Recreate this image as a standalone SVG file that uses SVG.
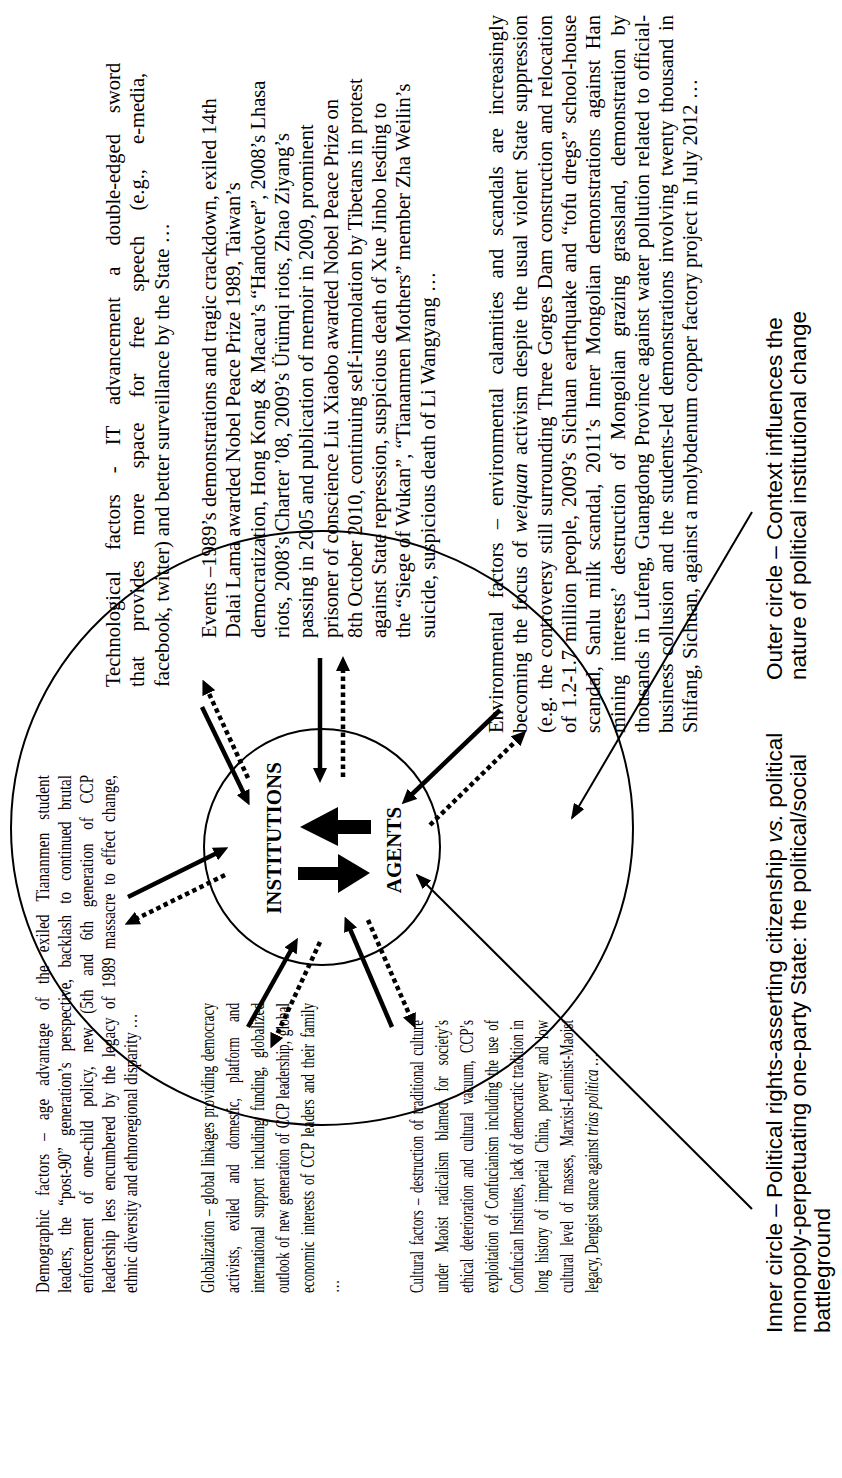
<svg xmlns="http://www.w3.org/2000/svg" width="842" height="1478" viewBox="0 0 842 1478">
<style>
.t{font-family:"Liberation Serif","Times New Roman",serif;fill:#000}
.l{font-size:19.5px}
.r{font-size:20.5px}
.lab{font-family:"Liberation Sans",Arial,sans-serif;font-size:22.5px;fill:#000}
.b{font-family:"Liberation Serif","Times New Roman",serif;font-weight:bold;font-size:21px;fill:#000;text-anchor:middle}
.ring{fill:none;stroke:#000;stroke-width:2}
.sol{stroke:#000;stroke-width:4.5;fill:none;marker-end:url(#ah)}
.dot{stroke:#000;stroke-width:4.5;fill:none;stroke-dasharray:4.5 3.5;marker-end:url(#ah)}
.thin{stroke:#000;stroke-width:2;fill:none;marker-end:url(#ahs)}
</style>
<defs>
<marker id="ah" viewBox="0 0 15 14" refX="9" refY="7" markerWidth="15" markerHeight="14" orient="auto" markerUnits="userSpaceOnUse"><path d="M0,0 L15,7 L0,14 z" fill="#000"/></marker>
<marker id="ahs" viewBox="0 0 16 12" refX="14" refY="6" markerWidth="16" markerHeight="12" orient="auto" markerUnits="userSpaceOnUse"><path d="M0,0 L16,6 L0,12 z" fill="#000"/></marker>
</defs>
<rect width="842" height="1478" fill="#fff"/>
<g id="outer-circle"><ellipse class="ring" cx="322" cy="828" rx="311" ry="297"/></g>
<g id="inner-circle"><circle class="ring" cx="322" cy="847" r="118"/>
<polygon points="300,827 338,807 338,820 371,820 371,834 338,834 338,846" fill="#000"/>
<polygon points="370,873 338,854 338,867 298,867 298,880 338,880 338,893" fill="#000"/>
</g>
<g id="connectors">
<line class="sol" x1="128" y1="897" x2="223" y2="850"/>
<line class="dot" x1="225" y1="875" x2="130" y2="922"/>
<line class="sol" x1="202" y1="707" x2="247" y2="800"/>
<line class="dot" x1="248" y1="778" x2="205" y2="685"/>
<line class="sol" x1="320" y1="658" x2="320" y2="777"/>
<line class="dot" x1="343" y1="777" x2="343" y2="662"/>
<line class="sol" x1="500" y1="710" x2="406" y2="800"/>
<line class="dot" x1="430" y1="825" x2="522" y2="735"/>
<line class="sol" x1="248" y1="1027" x2="295" y2="943"/>
<line class="dot" x1="320" y1="942" x2="273" y2="1043"/>
<line class="sol" x1="392" y1="1027" x2="347" y2="922"/>
<line class="dot" x1="368" y1="920" x2="413" y2="1023"/>
<line class="thin" x1="752" y1="1209" x2="417" y2="875"/>
<line class="thin" x1="752" y1="512" x2="572" y2="818"/>
</g>
<g transform="matrix(0 -1 1 0 0 1478)">
<g id="core-labels">
<text class="b" x="640" y="281">INSTITUTIONS</text>
<text class="b" x="628" y="401">AGENTS</text>
</g>
<g id="demographic" class="t l" transform="translate(185 0) scale(0.77 1) translate(-185 0)">
<text x="185" y="49" style="word-spacing:11.7px" textLength="672.7" lengthAdjust="spacing">Demographic factors – age advantage of the exiled Tiananmen student</text>
<text x="185" y="71" style="word-spacing:9.8px" textLength="672.7" lengthAdjust="spacing">leaders, the “post-90” generation’s perspective, backlash to continued brutal</text>
<text x="185" y="93" style="word-spacing:12.9px" textLength="672.7" lengthAdjust="spacing">enforcement of one-child policy, new (5th and 6th generation of CCP</text>
<text x="185" y="115" style="word-spacing:5.7px" textLength="672.7" lengthAdjust="spacing">leadership less encumbered by the legacy of 1989 massacre to effect change,</text>
<text x="185" y="137">ethnic diversity and ethnoregional disparity …</text>
</g>
<g id="globalization" class="t l" transform="translate(185 0) scale(0.68 1) translate(-185 0)">
<text x="185" y="214" style="word-spacing:2.2px" textLength="426.5" lengthAdjust="spacing">Globalization – global linkages providing democracy</text>
<text x="185" y="239" style="word-spacing:17.4px" textLength="426.5" lengthAdjust="spacing">activists, exiled and domestic, platform and</text>
<text x="185" y="264" style="word-spacing:7.8px" textLength="426.5" lengthAdjust="spacing">international support including funding, globalized</text>
<text x="185" y="289" style="word-spacing:2.1px" textLength="426.5" lengthAdjust="spacing">outlook of new generation of CCP leadership, global</text>
<text x="185" y="314" style="word-spacing:4px" textLength="426.5" lengthAdjust="spacing">economic interests of CCP leaders and their family</text>
<text x="185" y="339">…</text>
</g>
<g id="cultural" class="t l" transform="translate(185 0) scale(0.66 1) translate(-185 0)">
<text x="185" y="423" style="word-spacing:3.4px" textLength="413.6" lengthAdjust="spacing">Cultural factors – destruction of traditional culture</text>
<text x="185" y="448" style="word-spacing:12px" textLength="413.6" lengthAdjust="spacing">under Maoist radicalism blamed for society’s</text>
<text x="185" y="473" style="word-spacing:6.5px" textLength="413.6" lengthAdjust="spacing">ethical deterioration and cultural vacuum, CCP’s</text>
<text x="185" y="498" style="word-spacing:4.3px" textLength="413.6" lengthAdjust="spacing">exploitation of Confucianism including the use of</text>
<text x="185" y="523" style="word-spacing:0.8px" textLength="413.6" lengthAdjust="spacing">Confucian Institutes, lack of democratic tradition in</text>
<text x="185" y="548" style="word-spacing:5.9px" textLength="413.6" lengthAdjust="spacing">long history of imperial China, poverty and low</text>
<text x="185" y="573" style="word-spacing:7.1px" textLength="413.6" lengthAdjust="spacing">cultural level of masses, Marxist-Leninist-Maoist</text>
<text x="185" y="598">legacy, Dengist stance against <tspan font-style="italic">trias politica</tspan> …</text>
</g>
<g id="technological" class="t r">
<text x="791" y="120" style="word-spacing:16px">Technological factors - IT advancement a double-edged sword</text>
<text x="791" y="144" style="word-spacing:20px">that provides more space for free speech (e.g., e-media,</text>
<text x="791" y="169">facebook, twitter) and better surveillance by the State …</text>
</g>
<g id="events" class="t r">
<text x="840" y="216">Events –1989’s demonstrations and tragic crackdown, exiled 14th</text>
<text x="840" y="240">Dalai Lama awarded Nobel Peace Prize 1989, Taiwan’s</text>
<text x="840" y="265">democratization, Hong Kong &amp; Macau’s “Handover”, 2008’s Lhasa</text>
<text x="840" y="289">riots, 2008’s Charter ’08, 2009’s Ürümqi riots, Zhao Ziyang’s</text>
<text x="840" y="313">passing in 2005 and publication of memoir in 2009, prominent</text>
<text x="840" y="338">prisoner of conscience Liu Xiaobo awarded Nobel Peace Prize on</text>
<text x="840" y="362">8th October 2010, continuing self-immolation by Tibetans in protest</text>
<text x="840" y="386">against State repression, suspicious death of  Xue Jinbo lesding to</text>
<text x="840" y="410">the “Siege of Wukan”, “Tiananmen Mothers” member Zha Weilin’s</text>
<text x="840" y="435">suicide, suspicious death of Li Wangyang …</text>
</g>
<g id="environmental" class="t r">
<text x="745" y="503" style="word-spacing:8px" textLength="718" lengthAdjust="spacing">Environmental factors – environmental calamities and scandals are increasingly</text>
<text x="745" y="527" style="word-spacing:3.1px" textLength="718" lengthAdjust="spacing">becoming the focus of <tspan font-style="italic">weiquan</tspan> activism despite the usual violent State suppression</text>
<text x="745" y="552" style="word-spacing:1.8px" textLength="718" lengthAdjust="spacing">(e.g. the controversy still surrounding Three Gorges Dam construction and relocation</text>
<text x="745" y="576" style="word-spacing:2.7px" textLength="718" lengthAdjust="spacing">of 1.2-1.7 million people, 2009’s Sichuan earthquake and “tofu dregs” school-house</text>
<text x="745" y="600" style="word-spacing:5.3px" textLength="718" lengthAdjust="spacing">scandal, Sanlu milk scandal, 2011’s Inner Mongolian demonstrations against Han</text>
<text x="745" y="625" style="word-spacing:8px" textLength="718" lengthAdjust="spacing">mining interests’ destruction of Mongolian grazing grassland, demonstration by</text>
<text x="745" y="649" style="word-spacing:2px" textLength="718" lengthAdjust="spacing">thousands in Lufeng, Guangdong Province against water pollution related to official-</text>
<text x="745" y="673" style="word-spacing:2.6px" textLength="718" lengthAdjust="spacing">business collusion and the students-led demonstrations involving twenty thousand in</text>
<text x="745" y="697">Shifang, Sichuan, against a molybdenum copper factory project in July 2012 …</text>
</g>
<g id="outer-label" class="lab">
<text x="798" y="782">Outer circle – Context influences the</text>
<text x="798" y="806">nature of political institutional change</text>
</g>
<g id="inner-label" class="lab">
<text x="145" y="782">Inner circle – Political rights-asserting citizenship <tspan font-style="italic">vs.</tspan> political</text>
<text x="145" y="806">monopoly-perpetuating one-party State: the political/social</text>
<text x="145" y="830">battleground</text>
</g>
</g>
</svg>
